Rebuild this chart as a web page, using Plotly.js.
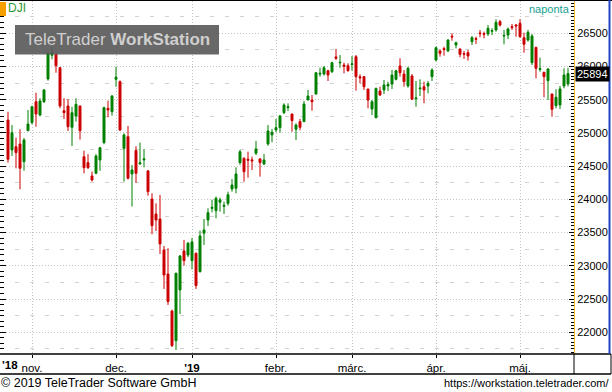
<!DOCTYPE html>
<html><head><meta charset="utf-8">
<script src="https://cdn.plot.ly/plotly-3.0.1.min.js"></script>
<style>html,body{margin:0;padding:0;background:#fff}#c{width:612px;height:392px}</style>
</head><body><div id="c"></div>
<script>
const dates = [
"2018-10-24","2018-10-25","2018-10-26","2018-10-29","2018-10-30","2018-10-31",
"2018-11-01","2018-11-02","2018-11-05","2018-11-06","2018-11-07","2018-11-08","2018-11-09","2018-11-12","2018-11-13","2018-11-14","2018-11-15","2018-11-16","2018-11-19","2018-11-20","2018-11-21","2018-11-23","2018-11-26","2018-11-27","2018-11-28","2018-11-29","2018-11-30",
"2018-12-03","2018-12-04","2018-12-06","2018-12-07","2018-12-10","2018-12-11","2018-12-12","2018-12-13","2018-12-14","2018-12-17","2018-12-18","2018-12-19","2018-12-20","2018-12-21","2018-12-24","2018-12-26","2018-12-27","2018-12-28","2018-12-31",
"2019-01-02","2019-01-03","2019-01-04","2019-01-07","2019-01-08","2019-01-09","2019-01-10","2019-01-11","2019-01-14","2019-01-15","2019-01-16","2019-01-17","2019-01-18","2019-01-22","2019-01-23","2019-01-24","2019-01-25","2019-01-28","2019-01-29","2019-01-30","2019-01-31",
"2019-02-01","2019-02-04","2019-02-05","2019-02-06","2019-02-07","2019-02-08","2019-02-11","2019-02-12","2019-02-13","2019-02-14","2019-02-15","2019-02-19","2019-02-20","2019-02-21","2019-02-22","2019-02-25","2019-02-26","2019-02-27","2019-02-28",
"2019-03-01","2019-03-04","2019-03-05","2019-03-06","2019-03-07","2019-03-08","2019-03-11","2019-03-12","2019-03-13","2019-03-14","2019-03-15","2019-03-18","2019-03-19","2019-03-20","2019-03-21","2019-03-22","2019-03-25","2019-03-26","2019-03-27","2019-03-28","2019-03-29",
"2019-04-01","2019-04-02","2019-04-03","2019-04-04","2019-04-05","2019-04-08","2019-04-09","2019-04-10","2019-04-11","2019-04-12","2019-04-15","2019-04-16","2019-04-17","2019-04-18","2019-04-22","2019-04-23","2019-04-24","2019-04-25","2019-04-26","2019-04-29","2019-04-30",
"2019-05-01","2019-05-02","2019-05-03","2019-05-06","2019-05-07","2019-05-08","2019-05-09","2019-05-10","2019-05-13","2019-05-14","2019-05-15","2019-05-16","2019-05-17"];

const open = [25195,24744,24793,24833,24568,25034,
25155,25470,25270,25470,25812,26169,26184,25982,25335,25406,25085,25255,25406,24643,24553,24352,24393,24593,24854,25370,25320,
25808,25772,24769,24944,24383,24734,24535,24595,24428,24006,23780,23705,23239,22877,22320,21873,22637,23224,23163,
23078,23189,22912,23490,23690,23865,23830,23957,23895,23940,24157,24167,24553,24620,24605,24595,24694,24609,24533,24834,24970,
25045,25080,25305,25380,25285,25055,25170,25170,25496,25495,25586,25885,25887,25937,25922,26145,26055,26022,26012,
26030,26148,25845,25847,25662,25360,25230,25632,25647,25707,25737,25807,26008,25887,25707,25857,25515,25665,25696,25707,25847,
26098,26234,26270,26234,26455,26324,26264,26195,26208,26374,26420,26505,26495,26490,26530,26550,26675,26458,26474,26600,26625,
26650,26434,26399,26058,26289,25955,25913,25787,25586,25411,25421,25707,25737];

const high = [25320,25120,24929,25055,24924,25346,
25410,25606,25522,25660,26223,26298,26190,25990,25522,25511,25395,25522,25410,24733,24680,24420,24680,24790,25395,25486,25570,
25997,25790,24995,25105,24518,24800,24854,24759,24443,24092,23941,24067,23299,23264,22340,22897,23163,23390,23360,
23420,23200,23530,23705,23866,23995,24042,24026,23966,24116,24307,24483,24745,24630,24718,24643,24879,24620,24683,25120,25060,
25210,25270,25446,25446,25290,25145,25210,25481,25646,25571,25910,25982,26008,25950,26072,26264,26173,26058,26048,
26158,26173,25883,25857,25662,25496,25680,25697,25797,25772,25948,25950,26124,25948,25998,25887,25782,25807,25772,25782,25973,
26300,26259,26299,26410,26500,26374,26270,26234,26249,26459,26450,26550,26525,26625,26575,26711,26700,26550,26585,26640,26640,
26711,26509,26550,26489,26295,26134,25920,25973,25590,25657,25707,25973,25980];

const low = [24553,24653,24468,24152,24432,25030,
25130,25094,25250,25450,25787,26109,25907,25371,25210,25030,24804,25170,24900,24393,24460,24270,24380,24430,24830,25236,25260,
25696,25030,24267,24300,23893,24250,24518,24483,24056,23475,23525,23178,22652,22411,21780,21733,22275,23003,23130,
22948,22652,22900,23314,23600,23805,23715,23815,23780,23905,24116,24092,24520,24267,24327,24443,24668,24342,24518,24808,24860,
25010,25004,25285,25330,25019,24894,25040,25170,25496,25335,25580,25847,25862,25782,25900,26098,25982,25897,25922,
25937,25636,25747,25647,25371,25270,25220,25556,25586,25632,25662,25790,25847,25697,25682,25496,25395,25556,25447,25597,25782,
26080,26148,26163,26220,26389,26274,26139,26113,26088,26324,26339,26440,26424,26459,26474,26524,26600,26334,26414,26550,26449,
26434,26208,26374,26023,25822,25922,25537,25496,25245,25371,25361,25672,25700];

const close = [24604,25004,24703,24468,24894,25135,
25395,25285,25481,25647,26199,26208,26012,25406,25305,25094,25305,25431,25034,24477,24477,24292,24653,24777,25381,25345,25556,
25838,25045,24970,24318,24443,24393,24550,24610,24116,23604,23690,23329,22862,22461,21798,22888,23148,23078,23340,
23360,22702,23450,23540,23800,23880,24017,23994,23910,24070,24217,24383,24718,24417,24590,24580,24760,24553,24593,25030,25010,
25080,25255,25421,25395,25185,25120,25085,25436,25556,25470,25907,25898,25982,25872,26058,26125,26063,26005,25937,
26040,25847,25830,25696,25496,25470,25672,25572,25722,25732,25872,25937,25907,25772,25973,25507,25527,25675,25647,25747,25948,
26283,26199,26255,26399,26445,26359,26184,26185,26158,26434,26410,26495,26485,26575,26540,26665,26625,26468,26565,26585,26610,
26449,26334,26515,26459,25973,25968,25847,25963,25356,25537,25662,25872,25894];

const monthLabels = ["nov.","dec.","'19","febr.","márc.","ápr.","máj."];
const yearLabel = "'18";
const symbol = "DJI";
const period = "naponta";

// first trading day of each month (after the first partial month)
const monthStarts = [];
for (let i = 1; i < dates.length; i++) {
  if (dates[i].slice(0,7) !== dates[i-1].slice(0,7)) monthStarts.push(dates[i]);
}
const tickText = monthLabels.map(t => t.startsWith("'") ? "<b>" + t + "</b>" : t);

const FONT = "Arial, 'Liberation Sans', sans-serif";
const W = 574, PH = 353, BOT = 354;
const px = v => v / W;
const py = v => (BOT - v) / PH;
const yr = [21673, 26986];

const traces = [
  {type:'candlestick', x:dates, open:open, high:high, low:low, close:close,
   increasing:{line:{color:'#008000', width:1}, fillcolor:'#008000'},
   decreasing:{line:{color:'#cc0000', width:1}, fillcolor:'#cc0000'},
   whiskerwidth:0, hoverinfo:'none', xaxis:'x', yaxis:'y'},
  {type:'scatter', x:[], y:[], xaxis:'x', yaxis:'y2', hoverinfo:'none'},
  {type:'scatter', x:[], y:[], xaxis:'x', yaxis:'y3', hoverinfo:'none'}
];

const layout = {
  width:612, height:392,
  margin:{l:0, r:38, t:1, b:38, pad:0},
  paper_bgcolor:'#ffffff', plot_bgcolor:'#ffffff',
  showlegend:false,
  font:{family:FONT, color:'#000'},
  xaxis:{type:'category', range:[-2, 141.5], tickvals:monthStarts, ticktext:tickText,
    ticks:'outside', ticklen:3, tickcolor:'#000', showgrid:true, gridcolor:'#c4c4c4', griddash:'1px,2px', gridwidth:1,
    showline:false, zeroline:false, tickfont:{family:FONT, size:11.5, color:'#000'},
    rangeslider:{visible:false}, fixedrange:true},
  yaxis:{side:'right', range:yr, autorange:false, tick0:0, dtick:500, tickformat:'d',
    ticks:'inside', ticklen:5, tickcolor:'#000', tickwidth:1,
    minor:{dtick:50, tick0:0, ticks:'inside', ticklen:3, tickcolor:'#000', showgrid:false},
    showgrid:true, gridcolor:'#c4c4c4', griddash:'1px,2px', gridwidth:1,
    showline:true, linecolor:'#f2bd2c', linewidth:1, mirror:false, zeroline:false,
    tickfont:{family:FONT, size:11, color:'#000'}, fixedrange:true},
  yaxis2:{overlaying:'y', side:'right', range:yr, autorange:false, tick0:250, dtick:500,
    showgrid:true, gridcolor:'#d2d2d2', griddash:'4px,11px', gridwidth:1,
    showticklabels:false, ticks:'', zeroline:false, showline:false, fixedrange:true},
  yaxis3:{overlaying:'y', side:'left', range:yr, autorange:false, tick0:0, dtick:500,
    ticks:'inside', ticklen:6, tickcolor:'#000', tickwidth:1,
    minor:{dtick:500/6, tick0:0, ticks:'inside', ticklen:4, tickcolor:'#000', showgrid:false},
    showticklabels:false, showgrid:false, zeroline:false, showline:false, fixedrange:true},
  shapes:[
    {type:'line', xref:'paper', yref:'paper', x0:0, x1:px(612), y0:py(0.5), y1:py(0.5), line:{color:'#000', width:1}},
    {type:'line', xref:'paper', yref:'paper', x0:0, x1:px(611), y0:py(354), y1:py(354), line:{color:'#000', width:1.5}},
    {type:'line', xref:'paper', yref:'paper', x0:0, x1:px(611), y0:py(374), y1:py(374), line:{color:'#000', width:1.5}},
    {type:'line', xref:'paper', yref:'paper', x0:px(574), x1:px(574), y0:py(354), y1:py(374), line:{color:'#000', width:1}},
    {type:'line', xref:'paper', yref:'paper', x0:px(611), x1:px(611), y0:py(354), y1:py(374), line:{color:'#000', width:1}},
    {type:'line', xref:'paper', yref:'paper', x0:px(609.5), x1:px(609.5), y0:py(354), y1:py(0), line:{color:'#2343c4', width:2}},
    {type:'rect', xref:'paper', yref:'paper', x0:0, x1:px(6), y0:py(16), y1:py(2), fillcolor:'#f5a000', line:{width:0}},
    {type:'rect', xref:'paper', yref:'paper', x0:px(15), x1:px(219), y0:py(54.5), y1:py(25), fillcolor:'rgba(88,88,88,0.9)', line:{width:0}, layer:'above'}
  ],
  annotations:[
    {xref:'paper', yref:'paper', x:px(117), y:py(40), xanchor:'center', yanchor:'middle', showarrow:false,
     text:"TeleTrader <b>WorkStation</b>", font:{family:FONT, size:17, color:'#cfcfcf'}},
    {xref:'paper', yref:'paper', x:px(6), y:py(8.5), xanchor:'left', yanchor:'middle', showarrow:false,
     text:symbol, font:{family:FONT, size:12, color:'#2e9a2e'}},
    {xref:'paper', yref:'paper', x:px(572), y:py(9), xanchor:'right', yanchor:'middle', showarrow:false,
     text:period, font:{family:FONT, size:11, color:'#169e8f'}},
    {xref:'paper', yref:'paper', x:px(0), y:py(365), xanchor:'left', yanchor:'middle', showarrow:false,
     text:"<b>" + yearLabel + "</b>", font:{family:FONT, size:11.5, color:'#000'}},
    {xref:'paper', yref:'y', x:px(575), y:close[close.length-1], xanchor:'left', yanchor:'middle', showarrow:false,
     text:String(close[close.length-1]), bgcolor:'#000', borderpad:1, font:{family:FONT, size:11, color:'#fff'}},
    {xref:'paper', yref:'paper', x:px(-1), y:py(383), xanchor:'left', yanchor:'middle', showarrow:false,
     text:"© 2019 TeleTrader Software GmbH", font:{family:FONT, size:12.5, color:'#000'}},
    {xref:'paper', yref:'paper', x:px(611), y:py(383), xanchor:'right', yanchor:'middle', showarrow:false,
     text:"https://workstation.teletrader.com/", font:{family:FONT, size:11, color:'#000'}}
  ]
};

Plotly.newPlot('c', traces, layout, {displayModeBar:false, staticPlot:true});
</script>
</body></html>
